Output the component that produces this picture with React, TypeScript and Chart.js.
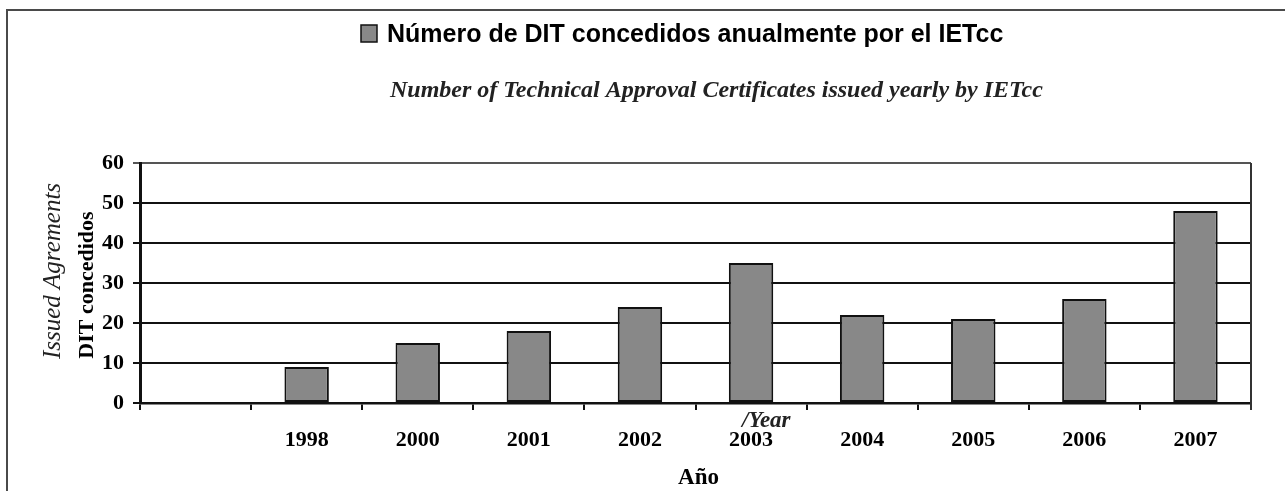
import React, { useEffect, useRef } from "react";
import { Chart, registerables } from "chart.js";

Chart.register(...registerables);

const categories: string[] = ["", "1998", "2000", "2001", "2002", "2003", "2004", "2005", "2006", "2007"];
const ditValues: (number | null)[] = [null, 9, 15, 18, 24, 35, 22, 21, 26, 48];
const yTicks: number[] = [0, 10, 20, 30, 40, 50, 60];
const titleText = "Número de DIT concedidos anualmente por el IETcc";
const subtitleText = "Number of Technical Approval Certificates issued yearly by IETcc";
const yTitleEn = "Issued Agrements";
const yTitleEs = "DIT concedidos";
const xTitleEs = "Año";
const xTitleEn = "/Year";

const SERIF = "'Liberation Serif', 'Times New Roman', serif";
const SANS = "'Liberation Sans', Arial, sans-serif";

const decorPlugin = {
  id: "decor",
  beforeDraw(chart: any) {
    const { ctx, width, height } = chart;
    ctx.save();
    ctx.fillStyle = "#ffffff";
    ctx.fillRect(0, 0, width, height);
    ctx.restore();
  },
  afterDraw(chart: any) {
    const { ctx, chartArea } = chart;
    ctx.save();
    // outer frame (left and top)
    ctx.strokeStyle = "#4a4a4a";
    ctx.lineWidth = 2;
    ctx.beginPath();
    ctx.moveTo(7, 491);
    ctx.lineTo(7, 10);
    ctx.lineTo(1285, 10);
    ctx.stroke();

    // right plot border
    ctx.strokeStyle = "#333";
    ctx.lineWidth = 2;
    ctx.beginPath();
    ctx.moveTo(chartArea.right, chartArea.top);
    ctx.lineTo(chartArea.right, chartArea.bottom + 7);
    ctx.stroke();

    // legend-like title
    ctx.fillStyle = "#888888";
    ctx.fillRect(361, 25, 16, 17);
    ctx.strokeStyle = "#111";
    ctx.lineWidth = 1.5;
    ctx.strokeRect(361, 25, 16, 17);
    ctx.fillStyle = "#000";
    ctx.font = `bold 25px ${SANS}`;
    ctx.textAlign = "left";
    ctx.textBaseline = "alphabetic";
    ctx.fillText(titleText, 387, 42);

    // subtitle
    ctx.fillStyle = "#222";
    ctx.font = `italic bold 24px ${SERIF}`;
    ctx.fillText(subtitleText, 390, 97);

    // y titles
    const cy = (chartArea.top + chartArea.bottom) / 2;
    ctx.save();
    ctx.translate(60, cy - 12);
    ctx.rotate(-Math.PI / 2);
    ctx.textAlign = "center";
    ctx.fillStyle = "#222";
    ctx.font = `italic 25px ${SERIF}`;
    ctx.fillText(yTitleEn, 0, 0);
    ctx.restore();

    ctx.save();
    ctx.translate(93, cy + 2);
    ctx.rotate(-Math.PI / 2);
    ctx.textAlign = "center";
    ctx.fillStyle = "#000";
    ctx.font = `bold 22px ${SERIF}`;
    ctx.fillText(yTitleEs, 0, 0);
    ctx.restore();

    // x titles
    ctx.fillStyle = "#222";
    ctx.font = `italic bold 23px ${SERIF}`;
    ctx.textAlign = "left";
    ctx.fillText(xTitleEn, 742, 427);

    ctx.fillStyle = "#000";
    ctx.font = `bold 23px ${SERIF}`;
    ctx.textAlign = "center";
    ctx.fillText(xTitleEs, (chartArea.left + chartArea.right) / 2 + 3, 484);
    ctx.restore();
  },
};

export default function App() {
  const canvasRef = useRef<HTMLCanvasElement | null>(null);

  useEffect(() => {
    document.body.style.margin = "0";
    const canvas = canvasRef.current;
    if (!canvas) return;
    const chart = new Chart(canvas, {
      type: "bar",
      data: {
        labels: categories,
        datasets: [
          {
            label: titleText,
            data: ditValues,
            backgroundColor: "#888888",
            borderColor: "#111111",
            borderWidth: 2,
            borderSkipped: false,
            categoryPercentage: 1,
            barPercentage: 0.4,
          },
        ],
      },
      options: {
        animation: false,
        responsive: false,
        maintainAspectRatio: false,
        layout: { padding: { top: 163, left: 0, right: 34, bottom: 0 } },
        plugins: {
          legend: { display: false },
          title: { display: false },
          tooltip: { enabled: false },
        },
        scales: {
          x: {
            offset: true,
            grid: {
              offset: true,
              drawOnChartArea: false,
              drawTicks: true,
              tickLength: 7,
              color: "#111",
              lineWidth: 2,
            },
            border: { display: true, color: "#111", width: 2.5 },
            ticks: {
              color: "#000",
              font: { family: SERIF, size: 22, weight: "bold" },
              padding: 17,
              maxRotation: 0,
              autoSkip: false,
            },
            afterFit(scale: any) {
              scale.height = 88;
            },
          },
          y: {
            min: 0,
            max: 60,
            afterBuildTicks(scale: any) {
              scale.ticks = yTicks.map((v) => ({ value: v }));
            },
            grid: {
              color: (c: any) => (c.tick && c.tick.value === 60 ? "#555" : "#111"),
              lineWidth: 2,
              tickLength: 7,
              drawTicks: true,
            },
            border: { display: true, color: "#111", width: 3 },
            ticks: {
              color: "#000",
              font: { family: SERIF, size: 22, weight: "bold" },
              padding: 9,
            },
            afterFit(scale: any) {
              scale.width = 140;
            },
          },
        },
      },
      plugins: [decorPlugin],
    });
    return () => chart.destroy();
  }, []);

  return (
    <div style={{ width: 1285, height: 491, position: "relative" }}>
      <canvas ref={canvasRef} width={1285} height={491} style={{ display: "block" }} />
    </div>
  );
}
